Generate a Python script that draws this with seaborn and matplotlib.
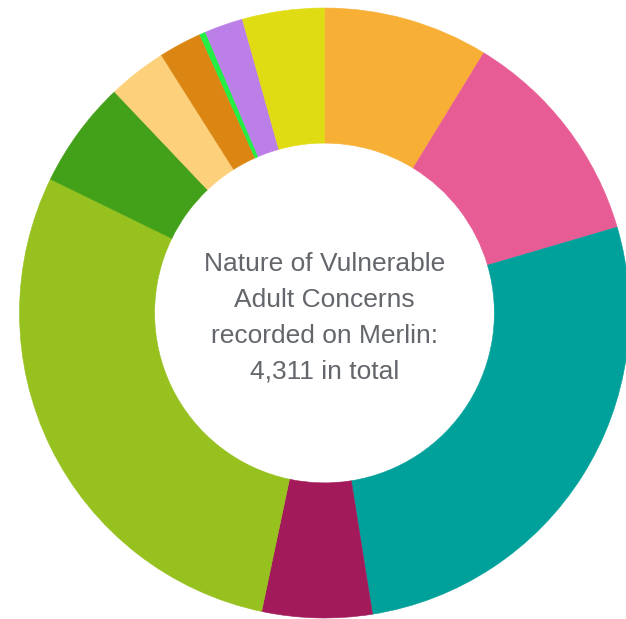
# donut chart of vulnerable adult concerns

import matplotlib
matplotlib.use('Agg')
import matplotlib.pyplot as plt
import seaborn as sns

# data (segments clockwise from 12 o'clock)
categories = ['Concern 1', 'Concern 2', 'Concern 3', 'Concern 4', 'Concern 5',
              'Concern 6', 'Concern 7', 'Concern 8', 'Concern 9', 'Concern 10',
              'Concern 11']
counts = [377, 505, 1165, 251, 1247, 245, 134, 98, 14, 88, 187]
colors = ['#F7B035', '#E85C96', '#00A19A', '#A21A5A', '#97C11F', '#42A118',
          '#FDD17B', '#DB8513', '#22EE44', '#BC7FE8', '#E0DC14']
center_text = 'Nature of Vulnerable\nAdult Concerns\nrecorded on Merlin:\n4,311 in total'

sns.set_theme(style='white')
plt.rcParams['font.family'] = ['Liberation Sans', 'DejaVu Sans']

fig = plt.figure(figsize=(6.26, 6.19), dpi=100)
# axes placed so the ring sits where it does in the reference (slightly cropped on the right)
ax = fig.add_axes([19.5 / 626, 1 / 619, 610 / 626, 610 / 619])

palette = sns.color_palette(colors)
wedges, _ = ax.pie(counts, colors=palette, startangle=90, counterclock=False,
                   radius=1.0, wedgeprops=dict(width=0.443, linewidth=0.4, antialiased=True))
for w, c in zip(wedges, palette):
    w.set_edgecolor(c)

ax.set_xlim(-1, 1)
ax.set_ylim(-1, 1)
ax.set_aspect('equal', adjustable='box')
ax.axis('off')

ax.text(0, -0.015, center_text, ha='center', va='center', fontsize=19,
        color='#63676b', linespacing=1.63)

fig.savefig('out.png', dpi=100)
